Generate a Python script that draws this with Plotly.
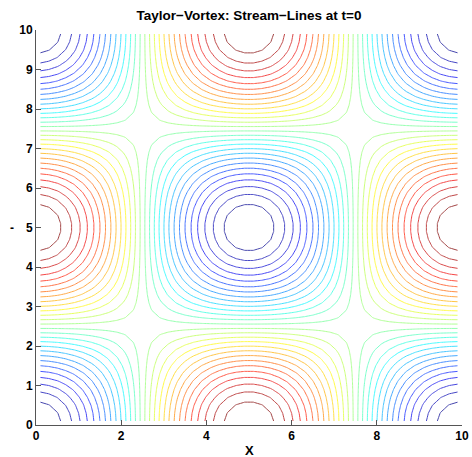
import numpy as np
import plotly.graph_objects as go

# Cell-centred grid on the square [0, 10] x [0, 10]
h = 0.2
x_nodes = np.arange(0.1, 10.0, h)
y_nodes = np.arange(0.1, 10.0, h)

# Taylor-vortex stream function at t=0: psi = -cos(pi x / L) cos(pi y / L)
L = 5.0
X, Y = np.meshgrid(x_nodes, y_nodes)
psi = -np.cos(np.pi * X / L) * np.cos(np.pi * Y / L)

# 28 evenly spaced stream-line levels between -1 and 1
n_levels = 28
level_step = 2.0 / (n_levels + 1)
level_start = -1.0 + level_step
level_end = 1.0 - level_step

x_ticks = [0, 2, 4, 6, 8, 10]
y_ticks = [0, 1, 2, 3, 4, 5, 6, 7, 8, 9, 10]

jet = [
    [0.0, "rgb(0,0,143)"],
    [0.125, "rgb(0,0,255)"],
    [0.375, "rgb(0,255,255)"],
    [0.625, "rgb(255,255,0)"],
    [0.875, "rgb(255,0,0)"],
    [1.0, "rgb(128,0,0)"],
]

fig = go.Figure(
    go.Contour(
        x=x_nodes,
        y=y_nodes,
        z=psi,
        zmin=-1,
        zmax=1,
        autocontour=False,
        contours=dict(coloring="lines", start=level_start, end=level_end + 1e-9, size=level_step),
        line=dict(width=1, smoothing=0),
        colorscale=jet,
        opacity=0.72,
        showscale=False,
        hoverinfo="skip",
    )
)

font_family = "Liberation Sans, Arial, sans-serif"
tick_font = dict(family=font_family, size=12, color="black", weight="bold")

# plot area spans x 36..462 px, y 30..425 px
fig.update_layout(
    width=472,
    height=457,
    margin=dict(l=36, r=10, t=30, b=32, autoexpand=False),
    paper_bgcolor="white",
    plot_bgcolor="white",
    showlegend=False,
    title=dict(
        text="Taylor\u2212Vortex: Stream\u2212Lines at t=0",
        x=(36 + 462) / 2 / 472,
        xanchor="center",
        y=1 - 15 / 457,
        yanchor="middle",
        font=dict(family=font_family, size=13.5, color="black", weight="bold"),
    ),
    xaxis=dict(
        range=[0, 10],
        tickvals=x_ticks,
        ticktext=[str(v) for v in x_ticks],
        ticks="inside",
        ticklen=5,
        tickcolor="#555",
        showline=True,
        linecolor="#555",
        linewidth=1,
        mirror=False,
        showgrid=False,
        zeroline=False,
        tickfont=tick_font,
        automargin=False,
    ),
    yaxis=dict(
        range=[0, 10],
        tickvals=y_ticks,
        ticktext=[str(v) for v in y_ticks],
        ticks="inside",
        ticklen=5,
        tickcolor="#555",
        showline=True,
        linecolor="#555",
        linewidth=1,
        mirror=False,
        showgrid=False,
        zeroline=False,
        tickfont=tick_font,
        automargin=False,
    ),
    annotations=[
        dict(
            text="X",
            xref="paper",
            yref="paper",
            x=0.5,
            y=-(451 - 425) / 395,
            showarrow=False,
            font=dict(family=font_family, size=13, color="black", weight="bold"),
            xanchor="center",
            yanchor="middle",
        ),
        dict(
            text="-",
            xref="paper",
            yref="paper",
            x=(12 - 36) / 426,
            y=0.5,
            showarrow=False,
            font=tick_font,
            xanchor="center",
            yanchor="middle",
        ),
    ],
)

fig.write_html("out.html")
